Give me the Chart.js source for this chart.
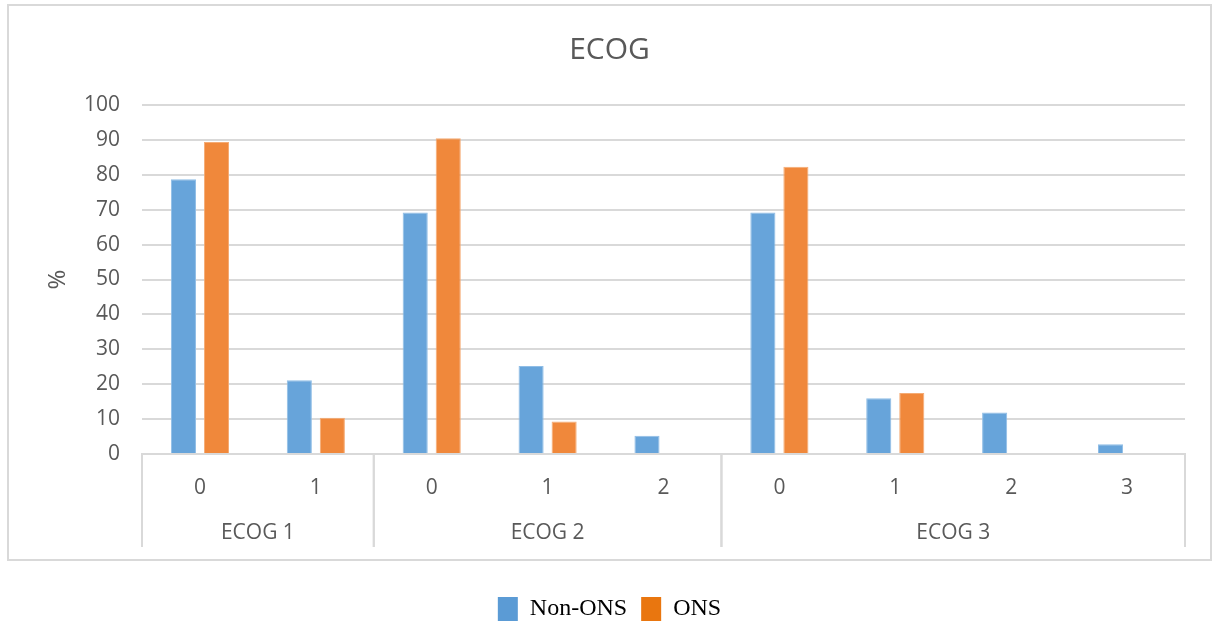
<!DOCTYPE html>
<html>
<head>
<meta charset="utf-8">
<script src="https://cdn.jsdelivr.net/npm/chart.js@4/dist/chart.umd.min.js"></script>
<style>
  html, body { margin: 0; padding: 0; background: #fff; }
  #wrap { width: 1213px; height: 627px; position: relative; }
</style>
</head>
<body>
<div id="wrap"><canvas id="myChart" width="1213" height="627"></canvas></div>
<script>
// grouped categories (ECOG group -> score)
const groupNames = ['ECOG 1', 'ECOG 2', 'ECOG 3'];
const groupSizes = [2, 3, 4];
const scoreLabels = ['0', '1', '0', '1', '2', '0', '1', '2', '3'];
// percentages
const nonOnsValues = [78.7, 21.1, 69.2, 25.2, 5.2, 69.2, 16.0, 11.9, 2.8];
const onsValues = [89.4, 10.4, 90.5, 9.3, 0, 82.3, 17.5, 0, 0];
const yTicks = [0, 10, 20, 30, 40, 50, 60, 70, 80, 90, 100];

const gray = '#595959';
const lineGray = '#d9d9d9';

// frame round the chart, group labels and separators under the axis
const groupAxisPlugin = {
  id: 'groupAxis',
  beforeDraw: function(chart) {
    const ctx = chart.ctx;
    ctx.save();
    ctx.strokeStyle = lineGray;
    ctx.lineWidth = 2;
    ctx.strokeRect(8, 5, 1203, 555);
    ctx.restore();
  },
  afterDraw: function(chart) {
    const ctx = chart.ctx;
    const x = chart.scales.x;
    const area = chart.chartArea;
    const half = (x.getPixelForValue(1) - x.getPixelForValue(0)) / 2;
    ctx.save();
    ctx.strokeStyle = lineGray;
    ctx.lineWidth = 2;
    ctx.fillStyle = gray;
    ctx.font = '21px "Open Sans"';
    ctx.textAlign = 'center';
    ctx.textBaseline = 'middle';
    let start = 0;
    for (let g = 0; g < groupNames.length; g++) {
      const end = start + groupSizes[g] - 1;
      const left = x.getPixelForValue(start) - half;
      const right = x.getPixelForValue(end) + half;
      [left, right].forEach(function(px) {
        ctx.beginPath();
        ctx.moveTo(px, area.bottom);
        ctx.lineTo(px, area.bottom + 93);
        ctx.stroke();
      });
      ctx.fillText(groupNames[g], (left + right) / 2, area.bottom + 79);
      start = end + 1;
    }
    ctx.restore();
  }
};

const ctx = document.getElementById('myChart');
const chart = new Chart(ctx, {
  type: 'bar',
  data: {
    labels: scoreLabels,
    datasets: [{
      label: 'Non-ONS',
      data: nonOnsValues,
      backgroundColor: '#67a4da',
      borderColor: '#8fbde6',
      borderWidth: 1,
      categoryPercentage: 0.57,
      barPercentage: 0.76
    },
    {
      label: 'ONS',
      data: onsValues,
      backgroundColor: '#f0883b',
      borderColor: '#f5ab74',
      borderWidth: 1,
      categoryPercentage: 0.57,
      barPercentage: 0.76
    }]
  },
  options: {
    responsive: false,
    animation: false,
    layout: {
      padding: { top: 32, left: 34, right: 28, bottom: -4 }
    },
    plugins: {
      title: {
        display: true,
        text: 'ECOG',
        color: gray,
        font: { family: 'Open Sans', size: 30, weight: 'normal' },
        padding: { top: 0, bottom: 37 }
      },
      legend: {
        position: 'bottom',
        labels: {
          boxWidth: 20,
          boxHeight: 24,
          padding: 14,
          color: '#000',
          font: { family: 'Liberation Serif', size: 24 },
          generateLabels: function(chart) {
            const fills = ['#5b9bd5', '#e9760f'];
            return chart.data.datasets.map(function(ds, i) {
              return {
                text: ds.label,
                fillStyle: fills[i],
                strokeStyle: fills[i],
                lineWidth: 0,
                datasetIndex: i
              };
            });
          }
        }
      },
      tooltip: { enabled: false }
    },
    scales: {
      x: {
        grid: { display: false },
        border: { display: true, color: lineGray, width: 2 },
        ticks: {
          color: gray,
          font: { family: 'Open Sans', size: 21 },
          padding: 13,
          maxRotation: 0
        },
        afterFit: function(scale) { scale.height = 129; }
      },
      y: {
        min: 0,
        max: 100,
        afterBuildTicks: function(scale) {
          scale.ticks = yTicks.map(function(v) { return { value: v }; });
        },
        grid: { color: lineGray, lineWidth: 2, drawTicks: false },
        border: { display: false },
        ticks: {
          color: gray,
          font: { family: 'Open Sans', size: 21 },
          padding: 22
        },
        title: {
          display: true,
          text: '%',
          color: gray,
          font: { family: 'Open Sans', size: 24 },
          padding: { top: 10, bottom: 4 }
        },
        afterFit: function(scale) { scale.width = 108; }
      }
    }
  },
  plugins: [groupAxisPlugin]
});
</script>
</body>
</html>
